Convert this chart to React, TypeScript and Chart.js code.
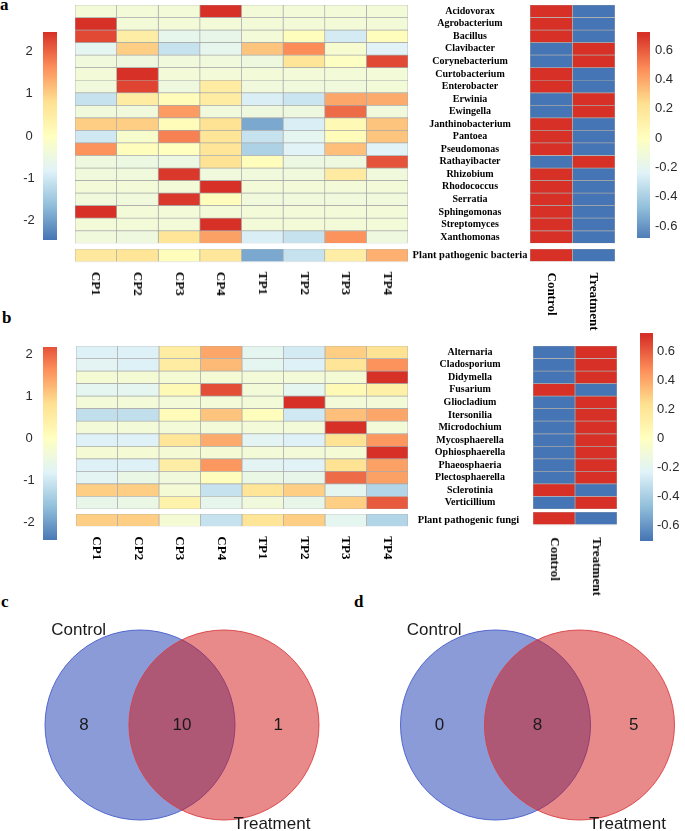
import React, { useEffect, useRef } from 'react';
import { Chart, registerables } from 'chart.js';

Chart.register(...registerables);

const SERIF = "'Liberation Serif', 'Times New Roman', serif";
const SANS = "'Liberation Sans', Arial, sans-serif";

// ---------------- data ----------------
const sampleColumns = ['CP1', 'CP2', 'CP3', 'CP4', 'TP1', 'TP2', 'TP3', 'TP4'];
const groupColumns = ['Control', 'Treatment'];

const bacteriaGenera = [
  'Acidovorax', 'Agrobacterium', 'Bacillus', 'Clavibacter', 'Corynebacterium',
  'Curtobacterium', 'Enterobacter', 'Erwinia', 'Ewingella', 'Janthinobacterium',
  'Pantoea', 'Pseudomonas', 'Rathayibacter', 'Rhizobium', 'Rhodococcus',
  'Serratia', 'Sphingomonas', 'Streptomyces', 'Xanthomonas',
];

// row z-scores, columns CP1..TP4
const bacteriaSampleZ = [
  [-0.35, -0.35, -0.35, 2.47, -0.35, -0.35, -0.35, -0.35],
  [2.47, -0.35, -0.35, -0.35, -0.35, -0.35, -0.35, -0.35],
  [2.25, 0.45, -0.65, -0.6, -0.35, 0.05, -0.95, 0.05],
  [-0.7, 1.0, -1.1, -0.65, 1.1, 1.65, -0.25, -0.8],
  [-0.4, -0.45, -0.4, -0.4, -0.45, 0.7, -0.05, 2.25],
  [-0.35, 2.47, -0.35, -0.35, -0.35, -0.35, -0.35, -0.35],
  [-0.4, 2.3, -0.45, 0.5, -0.4, -0.4, -0.4, -0.35],
  [-1.1, 0.5, 0.1, 0.5, -0.9, -1.05, 1.4, 1.35],
  [-0.4, -0.4, 1.5, -0.4, -0.45, -0.45, 1.95, -0.4],
  [1.0, 1.0, 0.1, 0.75, -1.9, -0.9, 0.15, 1.1],
  [-1.0, -0.2, 1.75, 0.7, -1.1, -0.7, 0.1, 1.1],
  [1.6, 0.05, 0.0, 0.7, -1.35, -0.8, 1.15, -0.8],
  [-0.45, -0.5, -0.5, 0.75, 0.05, -0.5, -0.45, 2.15],
  [-0.4, -0.4, 2.4, -0.4, -0.4, -0.4, 0.55, -0.4],
  [-0.35, -0.35, -0.35, 2.47, -0.35, -0.35, -0.35, -0.35],
  [-0.4, -0.4, 2.4, 0.05, -0.4, -0.4, -0.4, -0.4],
  [2.47, -0.35, -0.35, -0.35, -0.35, -0.35, -0.35, -0.35],
  [-0.35, -0.35, -0.35, 2.47, -0.35, -0.35, -0.35, -0.35],
  [-0.4, -0.45, 0.7, 1.45, -0.9, -1.1, 1.6, -0.45],
];
const bacteriaTotalLabel = ['Plant pathogenic bacteria'];
const bacteriaTotalZ = [0.6, 0.7, 0.05, 0.65, -1.9, -1.1, 0.45, 1.3];
const bacteriaControlZ = [
  0.71, 0.71, 0.71, -0.71, -0.71, 0.71, 0.71, -0.71, -0.71, 0.71,
  0.71, 0.71, -0.71, 0.71, 0.71, 0.71, 0.71, 0.71, 0.71,
];
const bacteriaTreatmentZ = [
  -0.71, -0.71, -0.71, 0.71, 0.71, -0.71, -0.71, 0.71, 0.71, -0.71,
  -0.71, -0.71, 0.71, -0.71, -0.71, -0.71, -0.71, -0.71, -0.71,
];
const bacteriaTotalGroupZ = [0.71, -0.71];

const fungiGenera = [
  'Alternaria', 'Cladosporium', 'Didymella', 'Fusarium', 'Gliocladium',
  'Itersonilia', 'Microdochium', 'Mycosphaerella', 'Ophiosphaerella',
  'Phaeosphaeria', 'Plectosphaerella', 'Sclerotinia', 'Verticillium',
];
const fungiSampleZ = [
  [-0.85, -0.85, 0.5, 1.4, -0.7, -0.95, 1.0, 0.75],
  [-0.75, -0.85, 0.5, 1.2, -0.7, -0.85, 0.7, 1.6],
  [-0.3, -0.3, -0.3, -0.3, -0.35, -0.35, -0.3, 2.47],
  [-0.7, -0.7, 0.15, 2.2, -0.35, -0.7, 0.15, 0.4],
  [-0.35, -0.35, -0.35, -0.35, -0.35, 2.47, -0.35, -0.35],
  [-1.15, -1.15, 0.1, 1.1, 0.05, -1.0, 1.15, 1.4],
  [-0.35, -0.35, -0.35, -0.35, -0.35, -0.35, 2.47, -0.35],
  [-0.85, -0.85, 0.7, 1.35, -0.75, -0.85, 0.75, 1.55],
  [-0.3, -0.3, -0.3, -0.3, -0.35, -0.35, -0.3, 2.47],
  [-0.85, -0.85, 0.45, 1.55, -0.75, -0.8, 0.75, 1.45],
  [-0.75, -0.55, -0.4, 0.05, -0.55, -0.6, 1.95, 1.45],
  [1.0, 1.0, -0.3, -1.1, 0.7, 1.0, -0.7, -1.3],
  [-0.6, -0.55, 0.35, -0.65, -0.4, -0.6, 1.0, 2.1],
];
const fungiTotalLabel = ['Plant pathogenic fungi'];
const fungiTotalZ = [1.0, 1.0, -0.3, -1.1, 0.7, 1.0, -0.7, -1.3];
const fungiControlZ = [-0.71, -0.71, -0.71, 0.71, -0.71, -0.71, -0.71, -0.71, -0.71, -0.71, -0.71, 0.71, -0.71];
const fungiTreatmentZ = [0.71, 0.71, 0.71, -0.71, 0.71, 0.71, 0.71, 0.71, 0.71, 0.71, 0.71, -0.71, 0.71];
const fungiTotalGroupZ = [0.71, -0.71];

const sampleScaleTicks = [-2, -1, 0, 1, 2];
const sampleScaleLabels = ['-2', '-1', '0', '1', '2'];
const groupScaleTicks = [-0.6, -0.4, -0.2, 0, 0.2, 0.4, 0.6];
const groupScaleLabels = ['-0.6', '-0.4', '-0.2', '0', '0.2', '0.4', '0.6'];

const vennSets = ['Control', 'Treatment'];
const bacteriaVennCounts = [8, 10, 1]; // control only, shared, treatment only
const fungiVennCounts = [0, 8, 5];

// ---------------- styling helpers ----------------
const PALETTE = ['#4575B4', '#91BFDB', '#E0F3F8', '#FFFFBF', '#FEE090', '#FC8D59', '#D73027'];
const CELL_BORDER = '#a8a8a8';
const SAMPLE_LIM = 2.47;
const GROUP_LIM = 0.707;
const VENN_SHIFT = 0.884; // distance between set centres, in radii

function hexToRgb(h: string) {
  const n = parseInt(h.slice(1), 16);
  return [(n >> 16) & 255, (n >> 8) & 255, n & 255];
}

function heatColor(v: number, lim: number) {
  const t = Math.min(1, Math.max(0, (v + lim) / (2 * lim))) * (PALETTE.length - 1);
  const i = Math.min(PALETTE.length - 2, Math.floor(t));
  const f = t - i;
  const a = hexToRgb(PALETTE[i]);
  const b = hexToRgb(PALETTE[i + 1]);
  const c = a.map((x, k) => Math.round(x + (b[k] - x) * f));
  return `rgb(${c[0]},${c[1]},${c[2]})`;
}

function measureWidest(labels: string[], font: string) {
  const ctx = document.createElement('canvas').getContext('2d') as CanvasRenderingContext2D;
  ctx.font = font;
  return Math.max(...labels.map((l) => ctx.measureText(l).width));
}

function ChartBox({ left, top, width, height, make }: any) {
  const ref = useRef<HTMLCanvasElement | null>(null);
  useEffect(() => {
    if (!ref.current) return;
    const chart = new Chart(ref.current, make());
    return () => chart.destroy();
  }, []);
  return (
    <div style={{ position: 'absolute', left, top, width, height }}>
      <canvas ref={ref} />
    </div>
  );
}

function columnLabelPlugin(labels: string[], gap: number) {
  return {
    id: 'columnLabels',
    afterDraw(chart: any) {
      const { ctx, chartArea, scales } = chart;
      ctx.save();
      ctx.font = `bold 13px ${SERIF}`;
      ctx.fillStyle = '#000';
      ctx.textAlign = 'left';
      ctx.textBaseline = 'middle';
      labels.forEach((l, j) => {
        const px = scales.x.getPixelForValue(j + 0.5);
        ctx.save();
        ctx.translate(px, chartArea.bottom + gap);
        ctx.rotate(Math.PI / 2);
        ctx.fillText(l, 0, 0);
        ctx.restore();
      });
      ctx.restore();
    },
  };
}

function Heatmap(p: any) {
  const showLabels = p.labelCenter != null;
  const half = showLabels ? p.labelCenter - (p.x + p.w) : 0;
  const axisW = showLabels ? 2 * half : 0;
  const extra = p.colLabelGap != null ? 90 : 0;
  const width = p.w + (showLabels ? 1 + axisW : 2);
  const height = p.h + 2 + extra;
  const fontSize = p.labelSize ?? 10;
  const make = () => {
    const widest = showLabels ? measureWidest(p.rows, `bold ${fontSize}px ${SERIF}`) : 0;
    return {
      type: 'bar',
      data: {
        labels: p.rows,
        datasets: p.cols.map((c: string, j: number) => ({
          label: c,
          data: p.rows.map(() => 1),
          backgroundColor: p.rows.map((_: string, i: number) => heatColor(p.value(i, j), p.lim)),
          borderColor: CELL_BORDER,
          borderWidth: 0.7,
          borderSkipped: false,
          barPercentage: 1,
          categoryPercentage: 1,
        })),
      },
      options: {
        indexAxis: 'y',
        animation: false,
        responsive: true,
        maintainAspectRatio: false,
        events: [],
        layout: { autoPadding: false, padding: { left: 1, top: 1, right: showLabels ? 0 : 1, bottom: 1 + extra } },
        plugins: { legend: { display: false }, tooltip: { enabled: false } },
        scales: {
          x: { type: 'linear', stacked: true, min: 0, max: p.cols.length, display: false },
          y: {
            type: 'category',
            stacked: true,
            position: 'right',
            display: showLabels,
            grid: { display: false, drawTicks: false },
            border: { display: false },
            ticks: {
              autoSkip: false,
              font: { family: SERIF, size: fontSize, weight: 'bold' },
              color: '#000',
              crossAlign: 'center',
              padding: Math.max(0, half - widest / 2),
            },
            afterFit: (s: any) => {
              s.width = axisW;
              s.paddingTop = 0;
              s.paddingBottom = 0;
            },
          },
        },
      },
      plugins: p.colLabelGap != null ? [columnLabelPlugin(p.cols, p.colLabelGap)] : [],
    };
  };
  return <ChartBox left={p.x - 1} top={p.y - 1} width={width} height={height} make={make} />;
}

function ColorBar(p: any) {
  const left = p.side === 'left';
  const axisW = left ? p.x : 42;
  const font = { family: SANS, size: 13 };
  const make = () => {
    const widest = measureWidest(p.labels, `13px ${SANS}`);
    return {
      type: 'bar',
      data: {
        labels: [''],
        datasets: [
          {
            data: [[p.min, p.max]],
            barPercentage: 1,
            categoryPercentage: 1,
            borderWidth: 0,
            backgroundColor: (c: any) => {
              const chart = c.chart;
              const ys = chart.scales && chart.scales.y;
              if (!ys || !chart.chartArea) return PALETTE[3];
              const g = chart.ctx.createLinearGradient(0, ys.getPixelForValue(-p.lim), 0, ys.getPixelForValue(p.lim));
              PALETTE.forEach((col, i) => g.addColorStop(i / (PALETTE.length - 1), col));
              return g;
            },
          },
        ],
      },
      options: {
        animation: false,
        responsive: true,
        maintainAspectRatio: false,
        events: [],
        layout: { autoPadding: false, padding: 0 },
        plugins: { legend: { display: false }, tooltip: { enabled: false } },
        scales: {
          x: { display: false },
          y: {
            min: p.min,
            max: p.max,
            position: p.side,
            grid: { display: false, drawTicks: false },
            border: { display: false },
            afterBuildTicks: (s: any) => {
              s.ticks = p.ticks.map((v: number) => ({ value: v }));
            },
            ticks: {
              font,
              color: '#2b2b2b',
              crossAlign: left ? 'center' : 'near',
              padding: left ? Math.max(0, p.x - p.labelCenter - widest / 2) : p.pad,
              callback: (_v: any, i: number) => p.labels[i],
            },
            afterFit: (s: any) => {
              s.width = axisW;
              s.paddingTop = 0;
              s.paddingBottom = 0;
            },
          },
        },
      },
    };
  };
  return (
    <ChartBox
      left={left ? 0 : p.x}
      top={p.y}
      width={p.w + axisW}
      height={p.h}
      make={make}
    />
  );
}

function vennTextPlugin(counts: number[], names: string[], r: number) {
  return {
    id: 'vennText',
    afterDatasetsDraw(chart: any) {
      const red = chart.getDatasetMeta(0).data[0];
      const blue = chart.getDatasetMeta(1).data[0];
      if (!red || !blue) return;
      const { ctx } = chart;
      ctx.save();
      ctx.fillStyle = '#1a1a1a';
      ctx.font = `17px ${SANS}`;
      ctx.textAlign = 'center';
      ctx.textBaseline = 'middle';
      ctx.fillText(String(counts[0]), blue.x - 0.59 * r, blue.y);
      ctx.fillText(String(counts[1]), (blue.x + red.x) / 2, blue.y);
      ctx.fillText(String(counts[2]), red.x + 0.57 * r, red.y);
      ctx.fillText(names[0], blue.x - 0.645 * r, blue.y - r);
      ctx.fillText(names[1], red.x + 0.505 * r, red.y + r + 4);
      ctx.restore();
    },
  };
}

function Venn(p: any) {
  const r = p.r;
  const make = () => ({
    type: 'bubble',
    data: {
      datasets: [
        {
          label: vennSets[1],
          data: [{ x: VENN_SHIFT, y: 0, r }],
          backgroundColor: 'rgba(209,21,21,0.5)',
          borderColor: 'rgba(218,62,66,0.9)',
          borderWidth: 1,
          order: 1,
          clip: false,
        },
        {
          label: vennSets[0],
          data: [{ x: 0, y: 0, r }],
          backgroundColor: 'rgba(23,55,177,0.5)',
          borderColor: 'rgba(70,92,205,0.9)',
          borderWidth: 1,
          order: 2,
          clip: false,
        },
      ],
    },
    options: {
      animation: false,
      responsive: true,
      maintainAspectRatio: false,
      events: [],
      layout: { autoPadding: false, padding: 0 },
      plugins: { legend: { display: false }, tooltip: { enabled: false } },
      scales: {
        x: { type: 'linear', display: false, min: -p.cx / r, max: (p.width - p.cx) / r },
        y: { type: 'linear', display: false, min: -(p.height - p.cy) / r, max: p.cy / r },
      },
    },
    plugins: [vennTextPlugin(p.counts, vennSets, r)],
  });
  return <ChartBox left={p.left} top={p.top} width={p.width} height={p.height} make={make} />;
}

function PanelLetter({ text, x, baseline }: any) {
  return (
    <div
      style={{
        position: 'absolute',
        left: x,
        top: baseline - 14,
        fontFamily: SERIF,
        fontWeight: 'bold',
        fontSize: 17,
        lineHeight: '17px',
        color: '#000',
      }}
    >
      {text}
    </div>
  );
}

export default function App() {
  return (
    <div
      style={{
        position: 'absolute',
        left: 0,
        top: 0,
        width: 685,
        height: 831,
        background: '#fff',
        overflow: 'hidden',
      }}
    >
      <PanelLetter text="a" x={0} baseline={10} />
      <PanelLetter text="b" x={2} baseline={323} />
      <PanelLetter text="c" x={1} baseline={607} />
      <PanelLetter text="d" x={354} baseline={607} />

      {/* panel a */}
      <ColorBar side="left" x={43} y={32} w={14} h={208} min={-SAMPLE_LIM} max={SAMPLE_LIM} lim={SAMPLE_LIM}
        ticks={sampleScaleTicks} labels={sampleScaleLabels} labelCenter={29} />
      <Heatmap rows={bacteriaGenera} cols={sampleColumns} value={(i: number, j: number) => bacteriaSampleZ[i][j]}
        lim={SAMPLE_LIM} x={75} y={5} w={333} h={238.3} labelCenter={470} />
      <Heatmap rows={bacteriaTotalLabel} cols={sampleColumns} value={(_i: number, j: number) => bacteriaTotalZ[j]}
        lim={SAMPLE_LIM} x={75} y={249} w={333} h={12.5} labelCenter={470} labelSize={10.5} colLabelGap={10} />
      <Heatmap rows={bacteriaGenera} cols={groupColumns}
        value={(i: number, j: number) => (j === 0 ? bacteriaControlZ[i] : bacteriaTreatmentZ[i])}
        lim={GROUP_LIM} x={530} y={5} w={85} h={238.3} />
      <Heatmap rows={bacteriaTotalLabel} cols={groupColumns} value={(_i: number, j: number) => bacteriaTotalGroupZ[j]}
        lim={GROUP_LIM} x={530} y={248.5} w={85} h={12.5} colLabelGap={11} />
      <ColorBar side="right" x={637} y={32} w={13} h={206} min={-0.68} max={0.723} lim={GROUP_LIM}
        ticks={groupScaleTicks} labels={groupScaleLabels} pad={5} />

      {/* panel b */}
      <ColorBar side="left" x={43} y={347} w={14} h={193} min={-2.43} max={2.17} lim={SAMPLE_LIM}
        ticks={sampleScaleTicks} labels={sampleScaleLabels} labelCenter={29} />
      <Heatmap rows={fungiGenera} cols={sampleColumns} value={(i: number, j: number) => fungiSampleZ[i][j]}
        lim={SAMPLE_LIM} x={76} y={345.7} w={332} h={163} labelCenter={470} />
      <Heatmap rows={fungiTotalLabel} cols={sampleColumns} value={(_i: number, j: number) => fungiTotalZ[j]}
        lim={SAMPLE_LIM} x={76} y={514} w={332} h={12.3} labelCenter={468.5} labelSize={10.5} colLabelGap={10} />
      <Heatmap rows={fungiGenera} cols={groupColumns}
        value={(i: number, j: number) => (j === 0 ? fungiControlZ[i] : fungiTreatmentZ[i])}
        lim={GROUP_LIM} x={533} y={345.5} w={84} h={163} />
      <Heatmap rows={fungiTotalLabel} cols={groupColumns} value={(_i: number, j: number) => fungiTotalGroupZ[j]}
        lim={GROUP_LIM} x={533} y={512} w={84} h={12.5} colLabelGap={12.5} />
      <ColorBar side="right" x={640} y={333} w={13} h={208} min={-0.71} max={0.724} lim={GROUP_LIM}
        ticks={groupScaleTicks} labels={groupScaleLabels} pad={4} />

      {/* panels c and d */}
      <Venn left={0} top={585} width={342} height={246} cx={140} cy={140} r={95} counts={bacteriaVennCounts} />
      <Venn left={342} top={585} width={343} height={246} cx={153.5} cy={140} r={95} counts={fungiVennCounts} />
    </div>
  );
}
